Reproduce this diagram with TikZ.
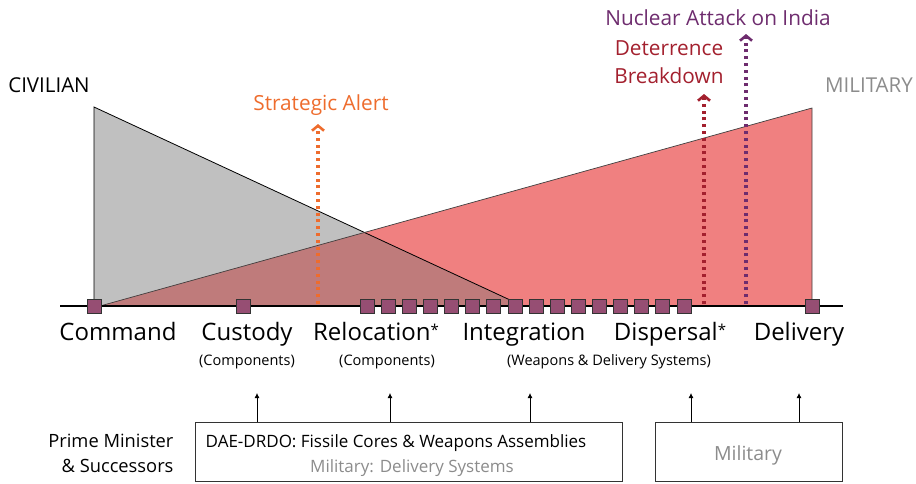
\documentclass[tikz,border=0pt]{standalone}
\usepackage{fontspec}
\setmainfont{Open Sans}
\usepackage{tikz}
\usetikzlibrary{arrows.meta}

\definecolor{civgray}{HTML}{C0C0C0}
\definecolor{milred}{HTML}{F08080}
\definecolor{mixred}{HTML}{BF7B7B}
\definecolor{stagepurple}{HTML}{964E73}
\definecolor{alertorange}{HTML}{EE6C2D}
\definecolor{breakred}{HTML}{A3202E}
\definecolor{attackpurple}{HTML}{6E2C6E}
\definecolor{softgray}{HTML}{8C8C8C}

\newcommand{\stagestar}{\raisebox{4.5pt}{\fontsize{15}{15}\selectfont *}}

\begin{document}
\begin{tikzpicture}[x=1pt, y=-1pt,
  stage/.style={draw=black!80, fill=stagepurple, minimum size=14pt, inner sep=0pt, line width=0.8pt},
  stagename/.style={font=\fontsize{24}{24}\selectfont, anchor=base},
  subname/.style={font=\fontsize{14.5}{15}\selectfont, anchor=base},
  event/.style={line width=3.2pt, dash pattern=on 3pt off 3.8pt, -{Straight Barb[length=5pt, width=12pt, line width=2.6pt]}},
  eventname/.style={font=\fontsize{20.8}{21}\selectfont, anchor=base},
  orgname/.style={font=\fontsize{17}{17}\selectfont, anchor=base},
  orgbox/.style={draw=black!80, line width=0.8pt, inner sep=0pt},
  up/.style={line width=0.8pt, -{Latex[length=5pt, width=5pt]}}]
\useasboundingbox (0,0) rectangle (916,483);

% the two triangles
\fill[civgray] (94,107) -- (94,306) -- (523,306) -- cycle;
\fill[milred] (100,306) -- (812,108) -- (812,306) -- cycle;
\begin{scope}
\clip (94,107) -- (94,306) -- (523,306) -- cycle;
\fill[mixred] (100,306) -- (812,108) -- (812,306) -- cycle;
\end{scope}
\draw[line width=0.8pt] (94,306) -- (94,107) -- (523,306);
\draw[line width=0.7pt, black!75] (100,306) -- (812,108) -- (812,306);

\node[font=\fontsize{20.5}{21}\selectfont, anchor=base] (civ) at (49,92) {CIVILIAN};
\node[font=\fontsize{20.5}{21}\selectfont, anchor=base, text=softgray] (mil) at (869,92) {MILITARY};

% events
\coordinate (alertfoot) at (318,304);
\coordinate (breakfoot) at (704,304);
\coordinate (attackfoot) at (746,304);
\coordinate (alerttip) at (318,124);
\coordinate (breaktip) at (704,94);
\coordinate (attacktip) at (746,34);
\draw[event, alertorange] (alertfoot) -- (alerttip);
\draw[event, breakred] (breakfoot) -- (breaktip);
\draw[event, attackpurple] (attackfoot) -- (attacktip);
\node[eventname, text=alertorange] (alert) at (321,110) {Strategic Alert};
\node[eventname, text=breakred] (breakdown1) at (669,55) {Deterrence};
\node[eventname, text=breakred] (breakdown2) at (669,83) {Breakdown};
\node[eventname, text=attackpurple] (attack) at (718,25) {Nuclear Attack on India};

% the line of stages
\coordinate (lineL) at (60,306);
\coordinate (lineR) at (843,306);
\draw[line width=2.6pt] (lineL) -- (lineR);
\node[stage] (sqcmd) at (94,306) {};
\node[stage] (sqcus) at (243,306) {};
\foreach \i in {0,...,15}
  \node[stage] (sq\i) at (367+21.13*\i,306) {};
\node[stage] (sqdel) at (812,306) {};

\node[stagename] (command) at (118,340) {Command};
\node[stagename] (custody) at (247,340) {Custody};
\node[stagename] (relocation) at (376,340) {Relocation\stagestar};
\node[stagename] (integration) at (524,340) {Integration};
\node[stagename] (dispersal) at (670,340) {Dispersal\stagestar};
\node[stagename] (delivery) at (799,340) {Delivery};

\node[subname] (cuscomp) at (247,365) {(Components)};
\node[subname] (relcomp) at (387,365) {(Components)};
\node[subname] (intsys) at (609,365) {(Weapons \& Delivery Systems)};

% who holds what
\node[font=\fontsize{18.3}{18}\selectfont, anchor=base east] (pm1) at (177,447) {Prime Minister};
\node[font=\fontsize{18.3}{18}\selectfont, anchor=base east] (pm2) at (177,472) {\& Successors};
\node[orgbox, minimum width=427pt, minimum height=59pt] (dae) at (408.5,451.5) {};
\node[orgname] (daetext) at (396,447) {DAE-DRDO: Fissile Cores \& Weapons Assemblies};
\node[orgname, text=softgray] (daemil) at (412,472) {Military: Delivery Systems};
\node[orgbox, minimum width=187pt, minimum height=59pt] (army) at (748.5,451.5) {};
\node[font=\fontsize{19.5}{19.5}\selectfont, anchor=base, text=softgray] (armytext) at (748,460) {Military};

\coordinate (up1) at (257,393);
\coordinate (up2) at (390,393);
\coordinate (up3) at (530,393);
\coordinate (up4) at (691,393);
\coordinate (up5) at (799,393);
\draw[up] (dae.north -| up1) -- (up1);
\draw[up] (dae.north -| up2) -- (up2);
\draw[up] (dae.north -| up3) -- (up3);
\draw[up] (army.north -| up4) -- (up4);
\draw[up] (army.north -| up5) -- (up5);
\end{tikzpicture}
\end{document}
